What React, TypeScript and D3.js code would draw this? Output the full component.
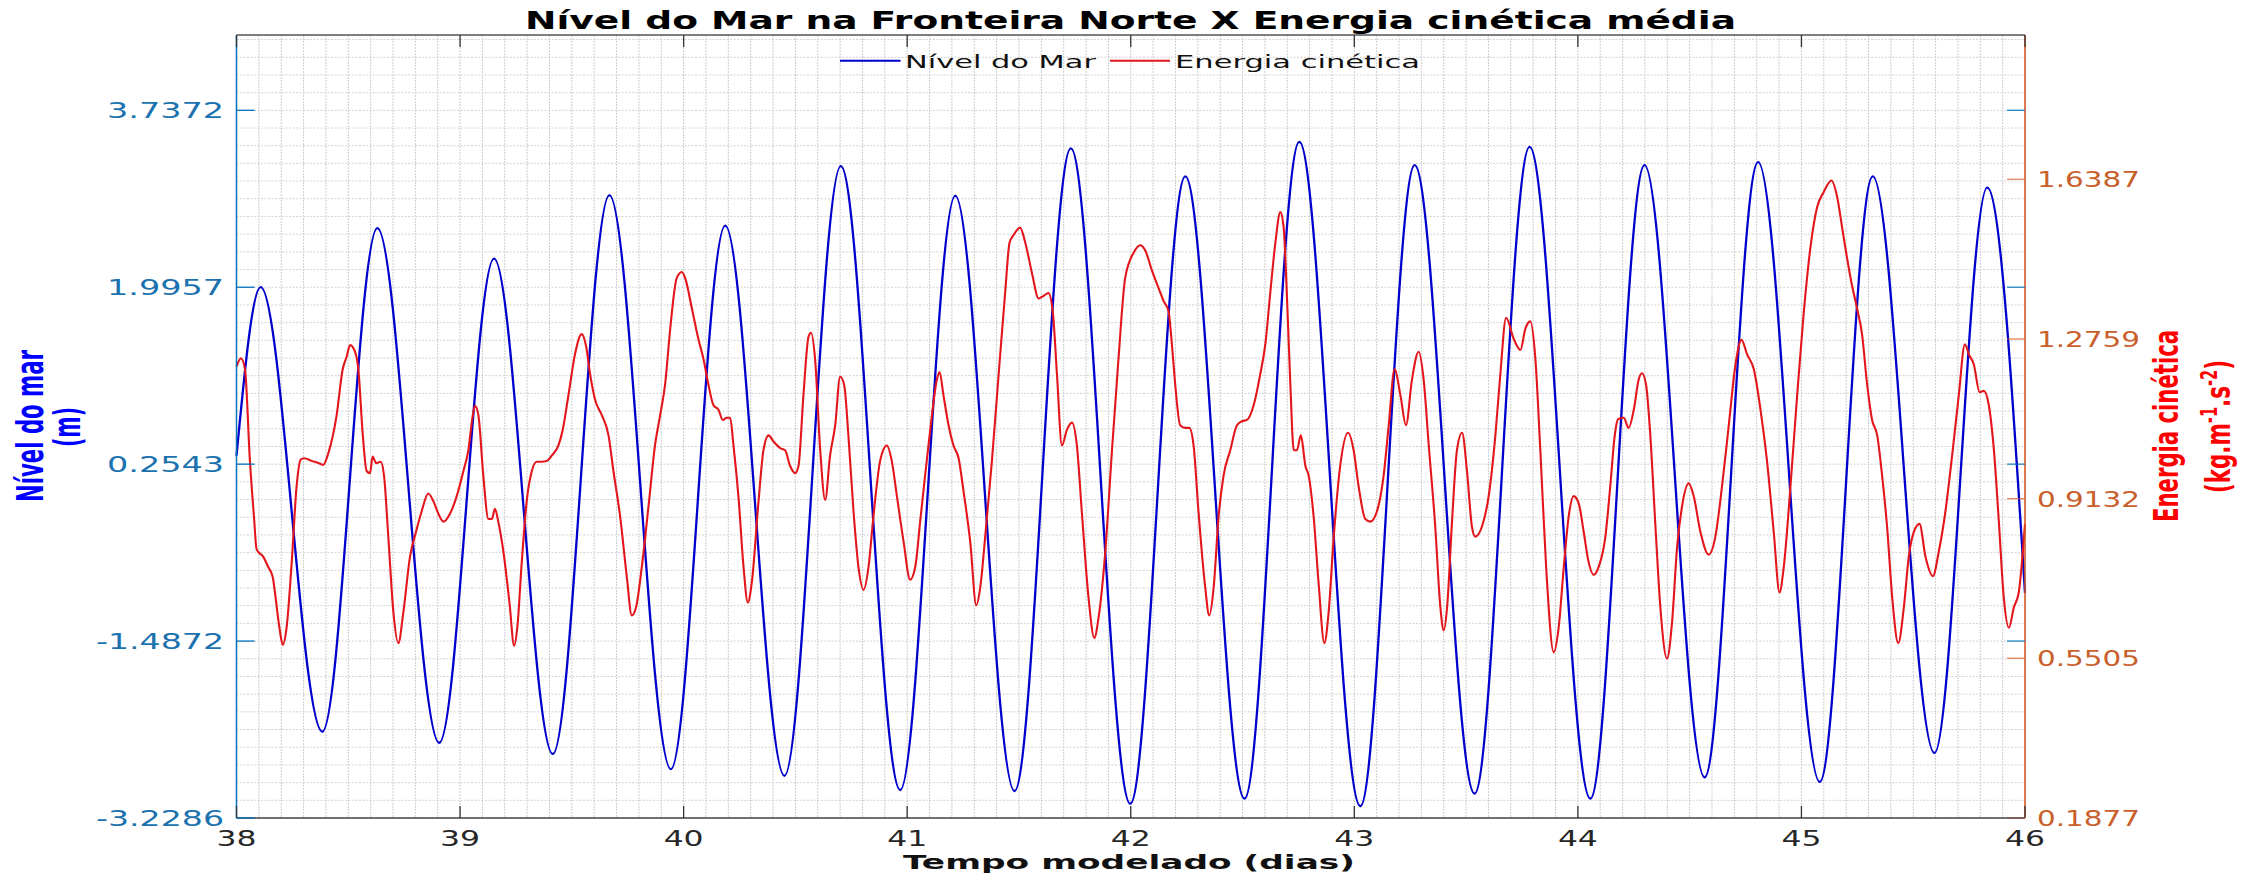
import React from 'react';
import * as d3 from 'd3';

const W = 2257;
const H = 876;

const xTicks = [38, 39, 40, 41, 42, 43, 44, 45, 46];
const leftTicks = [-3.2286, -1.4872, 0.2543, 1.9957, 3.7372];
const leftTickLabels = ['-3.2286', '-1.4872', '0.2543', '1.9957', '3.7372'];
const rightTicks = [0.1877, 0.5505, 0.9132, 1.2759, 1.6387];
const rightTickLabels = ['0.1877', '0.5505', '0.9132', '1.2759', '1.6387'];
const leftDomain = [-3.2286, 4.4784];
const rightDomain = [0.1877, 1.9665];

// Nível do Mar (m): extremes
const seaDays = [38.000, 38.108, 38.384, 38.630, 38.907, 39.152, 39.415, 39.668, 39.943, 40.186, 40.451, 40.703, 40.969, 41.215, 41.480, 41.732, 41.998, 42.244, 42.509, 42.754, 43.027, 43.270, 43.538, 43.784, 44.056, 44.298, 44.567, 44.806, 45.082, 45.319, 45.595, 45.831, 46.000];
const seaLevel = [0.337, 1.997, -2.378, 2.577, -2.488, 2.277, -2.598, 2.902, -2.748, 2.602, -2.813, 3.187, -2.953, 2.897, -2.963, 3.362, -3.088, 3.087, -3.038, 3.427, -3.113, 3.197, -2.988, 3.377, -3.038, 3.197, -2.828, 3.227, -2.873, 3.087, -2.588, 2.977, -1.013];

// Energia cinética (kg.m^-1.s^-2)
const keDays = [
  38.000, 38.020, 38.038, 38.060, 38.078, 38.090, 38.120, 38.142, 38.162, 38.172, 38.192, 38.207, 38.224, 38.247, 38.269, 38.287, 38.302, 38.336, 38.366, 38.388,
  38.411, 38.448, 38.475, 38.493, 38.508, 38.530, 38.545, 38.565, 38.582, 38.597, 38.609, 38.624, 38.645, 38.660, 38.679, 38.702, 38.724, 38.746, 38.776, 38.803,
  38.828, 38.858, 38.881, 38.903, 38.925, 38.955, 38.985, 39.015, 39.037, 39.057, 39.067, 39.082, 39.104, 39.127, 39.142, 39.156, 39.171, 39.194, 39.221, 39.242,
  39.256, 39.276, 39.298, 39.321, 39.343, 39.365, 39.388, 39.410, 39.440, 39.459, 39.485, 39.514, 39.544, 39.564, 39.582, 39.604, 39.634, 39.664, 39.686, 39.716,
  39.746, 39.768, 39.787, 39.813, 39.843, 39.872, 39.895, 39.917, 39.940, 39.969, 39.992,
  40.007, 40.037, 40.066, 40.089, 40.111, 40.133, 40.156, 40.175, 40.193, 40.208, 40.223, 40.245, 40.268, 40.287, 40.305, 40.335, 40.357, 40.380, 40.402, 40.432,
  40.454, 40.476, 40.499, 40.514, 40.536, 40.559, 40.570, 40.588, 40.611, 40.633, 40.655, 40.678, 40.700, 40.718, 40.737, 40.760, 40.782, 40.805, 40.827, 40.849,
  40.879, 40.909, 40.931, 40.954, 40.984, 41.013, 41.036, 41.058, 41.080, 41.103, 41.133, 41.145, 41.162, 41.185, 41.207, 41.230, 41.252, 41.282, 41.309, 41.327,
  41.349, 41.379, 41.409, 41.438, 41.458, 41.476, 41.505, 41.528, 41.558, 41.588, 41.610, 41.632, 41.652, 41.670, 41.692, 41.714, 41.737, 41.759, 41.781, 41.811,
  41.837, 41.856, 41.886, 41.916, 41.945, 41.975,
  42.013, 42.043, 42.065, 42.095, 42.125, 42.147, 42.169, 42.184, 42.199, 42.221, 42.244, 42.262, 42.281, 42.303, 42.333, 42.351, 42.371, 42.393, 42.415, 42.445,
  42.475, 42.497, 42.520, 42.550, 42.579, 42.602, 42.624, 42.647, 42.669, 42.684, 42.699, 42.714, 42.729, 42.743, 42.761, 42.781, 42.796, 42.818, 42.840, 42.866,
  42.885, 42.908, 42.937, 42.972, 42.997, 43.019, 43.049, 43.072, 43.101, 43.131, 43.154, 43.180, 43.206, 43.231, 43.258, 43.288, 43.310, 43.333, 43.362, 43.385,
  43.400, 43.415, 43.437, 43.459, 43.482, 43.504, 43.526, 43.541, 43.571, 43.601, 43.631, 43.653, 43.679, 43.713, 43.743, 43.765, 43.787, 43.810, 43.832, 43.858,
  43.892, 43.914, 43.937, 43.959, 43.981,
  44.004, 44.026, 44.048, 44.071, 44.093, 44.123, 44.145, 44.165, 44.180, 44.205, 44.227, 44.250, 44.272, 44.287, 44.305, 44.324, 44.347, 44.369, 44.399, 44.421,
  44.444, 44.466, 44.496, 44.518, 44.548, 44.585, 44.615, 44.645, 44.675, 44.705, 44.732, 44.757, 44.787, 44.817, 44.846, 44.876, 44.902, 44.921, 44.951, 44.981,
  45.010, 45.040, 45.070, 45.100, 45.134, 45.160, 45.182, 45.204, 45.224, 45.249, 45.271, 45.294, 45.316, 45.339, 45.361, 45.383, 45.406, 45.433, 45.458, 45.480,
  45.503, 45.528, 45.555, 45.588, 45.614, 45.644, 45.674, 45.704, 45.731, 45.749, 45.771, 45.797, 45.816, 45.838, 45.861, 45.883, 45.905, 45.928, 45.950, 45.972,
  46.000,
];
const keValues = [
  1.213, 1.232, 1.207, 0.999, 0.873, 0.798, 0.781, 0.758, 0.735, 0.700, 0.620, 0.581, 0.620, 0.769, 0.942, 1.002, 1.005, 0.999, 0.994, 0.990,
  1.017, 1.103, 1.207, 1.236, 1.262, 1.247, 1.207, 1.057, 0.976, 0.971, 1.009, 0.994, 0.997, 0.965, 0.827, 0.654, 0.585, 0.654, 0.781, 0.838,
  0.884, 0.925, 0.907, 0.879, 0.861, 0.879, 0.919, 0.976, 1.023, 1.103, 1.124, 1.103, 0.965, 0.867, 0.867, 0.890, 0.861, 0.792, 0.677, 0.579,
  0.620, 0.769, 0.907, 0.976, 0.997, 0.997, 0.999, 1.011, 1.034, 1.069, 1.149, 1.241, 1.287, 1.259, 1.195, 1.138, 1.103, 1.057, 0.976, 0.873,
  0.735, 0.648, 0.666, 0.758, 0.896, 1.034, 1.103, 1.172, 1.299, 1.414, 1.428,
  1.414, 1.345, 1.276, 1.230, 1.172, 1.126, 1.115, 1.092, 1.097, 1.097, 1.034, 0.919, 0.758, 0.677, 0.723, 0.907, 1.023, 1.057, 1.043, 1.028,
  1.023, 0.988, 0.971, 0.988, 1.149, 1.282, 1.290, 1.230, 1.023, 0.910, 1.011, 1.080, 1.190, 1.172, 1.057, 0.884, 0.758, 0.706, 0.758, 0.873,
  0.999, 1.034, 0.999, 0.919, 0.815, 0.729, 0.758, 0.861, 0.965, 1.069, 1.184, 1.201, 1.149, 1.080, 1.034, 1.005, 0.930, 0.815, 0.671, 0.712,
  0.827, 0.999, 1.195, 1.380, 1.495, 1.512, 1.529, 1.495, 1.426, 1.368, 1.374, 1.380, 1.334, 1.195, 1.034, 1.069, 1.086, 1.034, 0.884, 0.689,
  0.597, 0.643, 0.792, 1.023, 1.230, 1.414,
  1.472, 1.489, 1.477, 1.431, 1.391, 1.362, 1.339, 1.264, 1.172, 1.080, 1.074, 1.074, 1.034, 0.884, 0.712, 0.648, 0.712, 0.873, 0.965, 1.023,
  1.080, 1.089, 1.092, 1.126, 1.195, 1.264, 1.380, 1.495, 1.564, 1.529, 1.368, 1.172, 1.023, 1.023, 1.057, 0.988, 0.965, 0.873, 0.723, 0.585,
  0.654, 0.827, 0.988, 1.063, 1.023, 0.942, 0.867, 0.861, 0.884, 0.965, 1.080, 1.207, 1.149, 1.080, 1.184, 1.247, 1.184, 1.034, 0.850, 0.666,
  0.614, 0.666, 0.861, 1.023, 1.063, 0.976, 0.850, 0.827, 0.850, 0.919, 1.057, 1.195, 1.324, 1.276, 1.251, 1.299, 1.316, 1.230, 1.023, 0.758,
  0.564, 0.620, 0.758, 0.873, 0.919,
  0.902, 0.838, 0.769, 0.740, 0.758, 0.827, 0.942, 1.057, 1.094, 1.097, 1.074, 1.115, 1.184, 1.198, 1.172, 1.057, 0.850, 0.666, 0.550, 0.631,
  0.804, 0.896, 0.948, 0.919, 0.838, 0.786, 0.827, 0.942, 1.080, 1.218, 1.274, 1.241, 1.207, 1.115, 0.999, 0.838, 0.700, 0.758, 0.942, 1.149,
  1.334, 1.483, 1.575, 1.610, 1.636, 1.598, 1.529, 1.460, 1.403, 1.345, 1.287, 1.172, 1.092, 1.057, 0.965, 0.850, 0.689, 0.585, 0.666, 0.781,
  0.838, 0.856, 0.781, 0.737, 0.792, 0.884, 1.011, 1.149, 1.264, 1.241, 1.218, 1.155, 1.158, 1.126, 1.023, 0.861, 0.689, 0.620, 0.666, 0.700,
  0.856,
];

const legendNames = ['Nível do Mar', 'Energia cinética'];
const titleText = 'Nível do Mar na Fronteira Norte X Energia cinética média';
const xLabelText = 'Tempo modelado (dias)';

const M = { left: 236.5, right: 2025, top: 35, bottom: 818 };
const BLUE = '#0000cd';
const RED = '#e3161c';
const AX_L = '#0072BD';
const AX_R = '#D95319';
const LBL_L = '#1b72ae';
const LBL_R = '#c9602c';
const FONT = '"DejaVu Sans", Verdana, sans-serif';
const NARROW = '"DejaVu Sans Condensed", "DejaVu Sans", sans-serif';

export default function App() {
  const x = d3.scaleLinear().domain([38, 46]).range([M.left, M.right]);
  const yL = d3.scaleLinear().domain(leftDomain).range([M.bottom, M.top]);
  const yR = d3.scaleLinear().domain(rightDomain).range([M.bottom, M.top]);

  const seaLine = d3
    .line<number>()
    .x((_, i) => x(seaDays[i]))
    .y((d) => yL(d))
    .curve(d3.curveMonotoneX);
  const keLine = d3
    .line<number>()
    .x((_, i) => x(keDays[i]))
    .y((d) => yR(d))
    .curve(d3.curveMonotoneX);

  const xMinor = d3.range(0, 81).map((k) => 38 + k * 0.1);
  const yStep = (leftTicks[1] - leftTicks[0]) / 10;
  const yMinor = d3
    .range(0, 60)
    .map((k) => leftDomain[0] + k * yStep)
    .filter((v) => v <= leftDomain[1] + 1e-9);

  const tickLen = 18;
  const xTickLen = 12;

  return (
    <svg
      width={W}
      height={H}
      viewBox={`0 0 ${W} ${H}`}
      style={{ position: 'absolute', left: 0, top: 0, background: '#fff' }}
    >
      <rect x={0} y={0} width={W} height={H} fill="#fff" />
      {/* grid */}
      <g>
        {xMinor.map((v, i) => (
          <line
            key={'xm' + i}
            x1={x(v)}
            x2={x(v)}
            y1={M.top}
            y2={M.bottom}
            stroke="#cdcdcd"
            strokeWidth={1}
            strokeDasharray="2,1"
          />
        ))}
        {yMinor.map((v, i) => (
          <line
            key={'ym' + i}
            x1={M.left}
            x2={M.right}
            y1={yL(v)}
            y2={yL(v)}
            stroke="#d2d2d2"
            strokeWidth={1}
            strokeDasharray="2,1.5"
          />
        ))}
      </g>

      {/* series */}
      <path d={seaLine(seaLevel) || ''} fill="none" stroke={BLUE} strokeWidth={2.3} strokeLinejoin="round" />
      <path d={keLine(keValues) || ''} fill="none" stroke={RED} strokeWidth={2.1} strokeLinejoin="round" />

      {/* axes box */}
      <line x1={M.left} x2={M.right} y1={M.top} y2={M.top} stroke="#555" strokeWidth={1.5} />
      <line x1={M.left} x2={M.right} y1={M.bottom} y2={M.bottom} stroke="#444" strokeWidth={1.5} />
      <line x1={M.left} x2={M.left} y1={M.top} y2={M.bottom} stroke={AX_L} strokeWidth={1.5} />
      <line x1={M.right} x2={M.right} y1={M.top} y2={M.bottom} stroke={AX_R} strokeWidth={1.5} />

      {/* x ticks */}
      {xTicks.map((t) => (
        <g key={'xt' + t}>
          <line x1={x(t)} x2={x(t)} y1={M.top} y2={M.top + xTickLen} stroke="#333" strokeWidth={1.3} />
          <line x1={x(t)} x2={x(t)} y1={M.bottom} y2={M.bottom - xTickLen} stroke="#333" strokeWidth={1.3} />
          <text
            x={x(t) - 20}
            y={846}
            textLength={40}
            lengthAdjust="spacingAndGlyphs"
            fontFamily={FONT}
            fontSize={22}
            fill="#262626"
          >
            {String(t)}
          </text>
        </g>
      ))}

      {/* left ticks */}
      {leftTicks.map((t, i) => {
        const len = leftTickLabels[i].startsWith('-') ? 128 : 117;
        return (
          <g key={'lt' + i}>
            <line x1={M.left} x2={M.left + tickLen} y1={yL(t)} y2={yL(t)} stroke={AX_L} strokeWidth={1.3} />
            <line x1={M.right - tickLen} x2={M.right} y1={yL(t)} y2={yL(t)} stroke={AX_L} strokeWidth={1.3} opacity={0.85} />
            <text
              x={224 - len}
              y={yL(t) + 8}
              textLength={len}
              lengthAdjust="spacingAndGlyphs"
              fontFamily={FONT}
              fontSize={22}
              fill={LBL_L}
            >
              {leftTickLabels[i]}
            </text>
          </g>
        );
      })}

      {/* right ticks */}
      {rightTicks.map((t, i) => (
        <g key={'rt' + i}>
          <line x1={M.right - tickLen} x2={M.right} y1={yR(t)} y2={yR(t)} stroke={AX_R} strokeWidth={1.3} opacity={0.7} />
          <text
            x={2037}
            y={yR(t) + 8}
            textLength={103}
            lengthAdjust="spacingAndGlyphs"
            fontFamily={FONT}
            fontSize={22}
            fill={LBL_R}
          >
            {rightTickLabels[i]}
          </text>
        </g>
      ))}

      {/* title */}
      <text
        x={525}
        y={29}
        textLength={1211}
        lengthAdjust="spacingAndGlyphs"
        fontFamily={FONT}
        fontWeight="bold"
        fontSize={24}
        fill="#000"
      >
        {titleText}
      </text>

      {/* x label */}
      <text
        x={903}
        y={869}
        textLength={452}
        lengthAdjust="spacingAndGlyphs"
        fontFamily={FONT}
        fontWeight="bold"
        fontSize={20}
        fill="#111"
      >
        {xLabelText}
      </text>

      {/* legend */}
      <line x1={840} x2={900.6} y1={60.7} y2={60.7} stroke={BLUE} strokeWidth={2} />
      <text x={905} y={67.5} textLength={191} lengthAdjust="spacingAndGlyphs" fontFamily={FONT} fontSize={18} fill="#111">
        {legendNames[0]}
      </text>
      <line x1={1110} x2={1170} y1={60.7} y2={60.7} stroke={RED} strokeWidth={2} />
      <text x={1175} y={67.5} textLength={245} lengthAdjust="spacingAndGlyphs" fontFamily={FONT} fontSize={18} fill="#111">
        {legendNames[1]}
      </text>

      {/* left y label */}
      <g transform="translate(42.7,426) scale(1.5,1) rotate(-90)">
        <text x={-76} y={0} textLength={152} lengthAdjust="spacingAndGlyphs" fontFamily={NARROW} fontWeight="bold" fontSize={25} fill="#0000ff">
          Nível do mar
        </text>
      </g>
      <g transform="translate(80,427) scale(1.5,1) rotate(-90)">
        <text x={-20} y={0} textLength={40} lengthAdjust="spacingAndGlyphs" fontFamily={NARROW} fontWeight="bold" fontSize={25} fill="#0000ff">
          (m)
        </text>
      </g>

      {/* right y label */}
      <g transform="translate(2178,426) scale(1.5,1) rotate(-90)">
        <text x={-96} y={0} textLength={192} lengthAdjust="spacingAndGlyphs" fontFamily={NARROW} fontWeight="bold" fontSize={22} fill="#ff0000">
          Energia cinética
        </text>
      </g>
      <g transform="translate(2230,426.5) scale(1.5,1) rotate(-90)">
        <text x={-66.5} y={0} textLength={133} lengthAdjust="spacingAndGlyphs" fontFamily={NARROW} fontWeight="bold" fontSize={22} fill="#ff0000">
          (kg.m
          <tspan fontSize={15} dy={-9}>-1</tspan>
          <tspan dy={9}>.s</tspan>
          <tspan fontSize={15} dy={-9}>-2</tspan>
          <tspan dy={9}>)</tspan>
        </text>
      </g>
    </svg>
  );
}
